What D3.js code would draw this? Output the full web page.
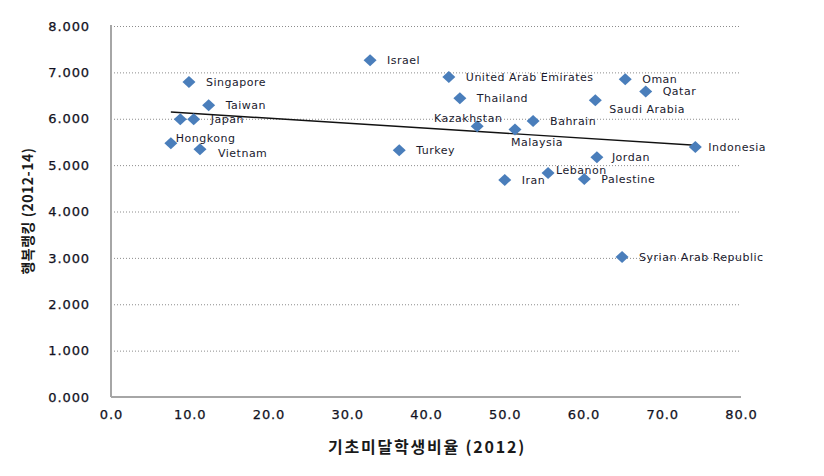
<!DOCTYPE html>
<html>
<head>
<meta charset="utf-8">
<script src="https://cdn.jsdelivr.net/npm/d3@7"></script>
<style>
  html, body { margin: 0; padding: 0; background: #fff; }
  svg { display: block; }
</style>
</head>
<body>
<div id="chart"></div>
<script>
// ---- data ----
const countries = ["Singapore","Taiwan","","Japan","Hongkong","Vietnam","Israel","Turkey",
  "United Arab Emirates","Thailand","Kazakhstan","Malaysia","Bahrain","Saudi Arabia","Oman",
  "Qatar","Indonesia","Jordan","Iran","Lebanon","Palestine","Syrian Arab Republic"];
const basicShare = [9.9,12.4,8.8,10.5,7.6,11.3,32.9,36.6,42.9,44.3,46.5,51.3,53.6,61.5,65.3,
  67.9,74.2,61.7,50.0,55.5,60.1,64.9];
const happiness = [6.79,6.29,5.99,5.99,5.47,5.34,7.26,5.32,6.90,6.44,5.84,5.77,5.95,6.40,6.85,
  6.59,5.39,5.17,4.68,4.83,4.70,3.02];
const xTicks = [0,10,20,30,40,50,60,70,80];
const yTicks = [0,1,2,3,4,5,6,7,8];
const xTitle = "기초미달학생비율 (2012)";
const yTitle = "행복랭킹 (2012-14)";

// ---- layout ----
const W = 824, H = 476;
const pLeft = 111, pRight = 741, pTop = 26, pBottom = 397;
const svg = d3.select("#chart").append("svg").attr("width", W).attr("height", H);

const x = d3.scaleLinear().domain([0, 80]).range([pLeft, pRight]);
const y = d3.scaleLinear().domain([0, 8]).range([pBottom, pTop]);

// gridlines
svg.append("g").selectAll("line").data(yTicks.filter(d => d > 0)).join("line")
  .attr("x1", pLeft).attr("x2", pRight)
  .attr("y1", d => y(d) + 0.5).attr("y2", d => y(d) + 0.5)
  .attr("stroke", "#8c8c8c").attr("stroke-width", 1).attr("stroke-dasharray", "1,2");

// axes
const yAxis = svg.append("g").attr("transform", `translate(${pLeft},0)`)
  .call(d3.axisLeft(y).tickValues(yTicks).tickSize(0).tickPadding(21).tickFormat(d3.format(".3f")));
const xAxis = svg.append("g").attr("transform", `translate(0,${pBottom})`)
  .call(d3.axisBottom(x).tickValues(xTicks).tickSize(0).tickPadding(13).tickFormat(d3.format(".1f")));
[yAxis, xAxis].forEach(a => {
  a.select(".domain").attr("stroke", "#a6a6a6").attr("stroke-width", 2);
  a.selectAll("text").attr("font-family", "DejaVu Sans, Verdana, sans-serif")
    .attr("font-size", 13).attr("fill", "#111122").attr("letter-spacing", 0.9)
    .attr("stroke", "#111122").attr("stroke-width", 0.25);
});
xAxis.select(".domain").attr("d", `M${pLeft},0H${pRight}`);
yAxis.select(".domain").attr("d", `M0,${pTop - 1}V${pBottom}`);

// trendline (least squares on the data)
const n = basicShare.length;
const mx = d3.mean(basicShare), my = d3.mean(happiness);
let sxy = 0, sxx = 0;
for (let i = 0; i < n; i++) { sxy += (basicShare[i]-mx)*(happiness[i]-my); sxx += (basicShare[i]-mx)**2; }
const slope = sxy / sxx, icpt = my - slope * mx;
const [x0, x1] = d3.extent(basicShare);
svg.append("line")
  .attr("x1", x(x0)).attr("y1", y(icpt + slope * x0))
  .attr("x2", x(x1)).attr("y2", y(icpt + slope * x1))
  .attr("stroke", "#111").attr("stroke-width", 1.4);

// markers
const pts = countries.map((c, i) => ({ name: c, x: basicShare[i], y: happiness[i] }));
svg.append("g").selectAll("path").data(pts).join("path")
  .attr("transform", d => `translate(${x(d.x)},${y(d.y)})`)
  .attr("d", "M0,-6L6.5,0L0,6L-6.5,0Z")
  .attr("fill", "#4a7ebb");

// labels (placement offsets)
const place = {
  "Hongkong": [5, -5, "start"],
  "Vietnam": [18, 4, "start"],
  "Kazakhstan": [-9, -8, "middle"],
  "Malaysia": [22, 13, "middle"],
  "Saudi Arabia": [14, 9, "start"],
  "Lebanon": [8, -3, "start"],
  "Indonesia": [13, 0, "start"],
  "Jordan": [15, 0, "start"]
};
svg.append("g").selectAll("text").data(pts.filter(d => d.name)).join("text")
  .attr("x", d => x(d.x) + (place[d.name] ? place[d.name][0] : 17))
  .attr("y", d => y(d.y) + (place[d.name] ? place[d.name][1] : 0))
  .attr("dy", "0.35em")
  .attr("text-anchor", d => place[d.name] ? place[d.name][2] : "start")
  .attr("font-family", "DejaVu Sans, Verdana, sans-serif")
  .attr("font-size", 11).attr("letter-spacing", 0.5).attr("fill", "#1a1a2e")
  .text(d => d.name);

// axis titles
svg.append("text").attr("x", 427).attr("y", 447).attr("dy", "0.35em")
  .attr("text-anchor", "middle")
  .attr("font-family", "Noto Sans CJK KR, sans-serif").attr("font-weight", "bold")
  .attr("font-size", 16).attr("letter-spacing", 1.8).attr("fill", "#1a1a1a")
  .text(xTitle);
svg.append("text").attr("transform", "translate(28,211) rotate(-90)").attr("dy", "0.35em")
  .attr("text-anchor", "middle")
  .attr("font-family", "Noto Sans CJK KR, sans-serif").attr("font-weight", "bold")
  .attr("font-size", 14).attr("letter-spacing", 0.5).attr("fill", "#1a1a1a")
  .text(yTitle);
</script>
</body>
</html>
